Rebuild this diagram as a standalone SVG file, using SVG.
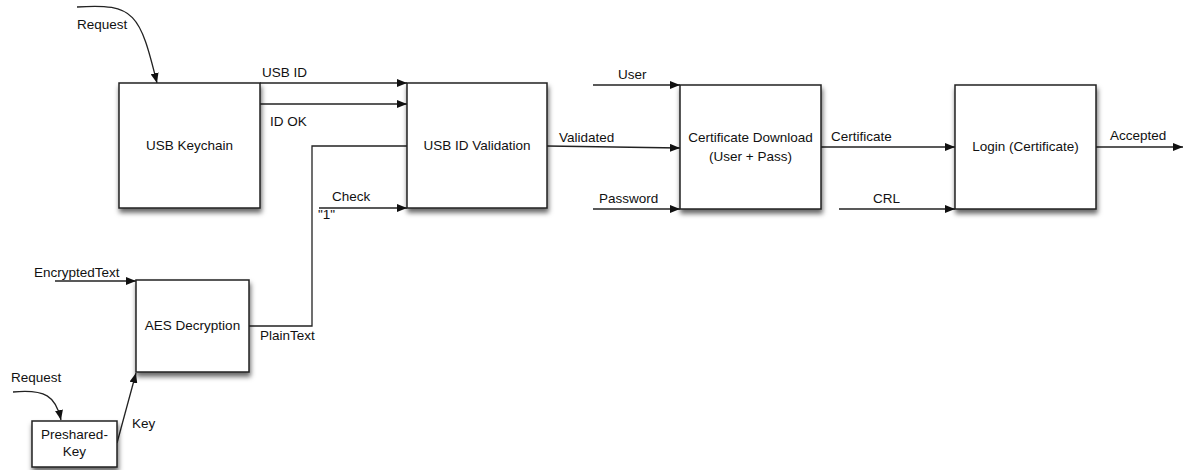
<svg xmlns="http://www.w3.org/2000/svg" width="1183" height="470" viewBox="0 0 1183 470">
<style>
text{font-family:"Liberation Sans",Arial,sans-serif;font-size:13.5px;fill:#111}
.box{fill:#fff;stroke:#222;stroke-width:1.5;filter:url(#sh)}
.c{text-anchor:middle}
.e{fill:none;stroke:#222;stroke-width:1.3}
</style>
<defs>
<filter id="sh" x="-10%" y="-10%" width="130%" height="130%">
<feDropShadow dx="1" dy="4" stdDeviation="2.5" flood-color="#000" flood-opacity="0.6"/>
</filter>
<marker id="a" viewBox="0 0 10 8" refX="10" refY="4" markerWidth="10" markerHeight="8" markerUnits="userSpaceOnUse" orient="auto">
<path d="M0,0 L10,4 L0,8 Z" fill="#111"/>
</marker>
</defs>
<rect width="1183" height="470" fill="#fff"/>
<g id="connectors">
<path class="e" d="M77,7 C135,3 140,14 157,83" marker-end="url(#a)"/>
<path class="e" d="M260,83 L407,83" marker-end="url(#a)"/>
<path class="e" d="M260,104 L407,104" marker-end="url(#a)"/>
<path class="e" d="M249,326 L312,326 L312,146 L407,146"/>
<path class="e" d="M319,208 L407,208" marker-end="url(#a)"/>
<path class="e" d="M547,146 L680,148" marker-end="url(#a)"/>
<path class="e" d="M593,85 L680,85" marker-end="url(#a)"/>
<path class="e" d="M593,209 L680,209" marker-end="url(#a)"/>
<path class="e" d="M821,147 L955,147" marker-end="url(#a)"/>
<path class="e" d="M839,209 L955,209" marker-end="url(#a)"/>
<path class="e" d="M1096,147 L1183,147" marker-end="url(#a)"/>
<path class="e" d="M55,281 L136,281" marker-end="url(#a)"/>
<path class="e" d="M13,392 C45,389 56,396 61,420" marker-end="url(#a)"/>
<path class="e" d="M117,443 L136,373" marker-end="url(#a)"/>
<text x="77" y="29">Request</text>
<text x="262" y="77">USB ID</text>
<text x="270" y="126">ID OK</text>
<text x="332" y="201">Check</text>
<text x="318" y="219">"1"</text>
<text x="260" y="340">PlainText</text>
<text x="559" y="142">Validated</text>
<text x="618" y="79">User</text>
<text x="599" y="203">Password</text>
<text x="831" y="141">Certificate</text>
<text x="873" y="203">CRL</text>
<text x="1110" y="140">Accepted</text>
<text x="34" y="277">EncryptedText</text>
<text x="11" y="382">Request</text>
<text x="132" y="428">Key</text>
</g>
<g id="usb-keychain">
<rect class="box" x="119" y="83" width="141" height="125"/>
<text class="c" x="189.5" y="150">USB Keychain</text>
</g>
<g id="usb-id-validation">
<rect class="box" x="407" y="83" width="140" height="125"/>
<text class="c" x="477" y="150">USB ID Validation</text>
</g>
<g id="certificate-download">
<rect class="box" x="680" y="85" width="141" height="124"/>
<text class="c" x="750.5" y="142">Certificate Download</text>
<text class="c" x="750.5" y="161">(User + Pass)</text>
</g>
<g id="login">
<rect class="box" x="955" y="85" width="141" height="124"/>
<text class="c" x="1025.5" y="151">Login (Certificate)</text>
</g>
<g id="aes-decryption">
<rect class="box" x="136" y="280" width="113" height="92"/>
<text class="c" x="192.5" y="330">AES Decryption</text>
</g>
<g id="preshared-key">
<rect class="box" x="32" y="421" width="85" height="46"/>
<text class="c" x="74.5" y="439">Preshared-</text>
<text class="c" x="74.5" y="456">Key</text>
</g>
</svg>
